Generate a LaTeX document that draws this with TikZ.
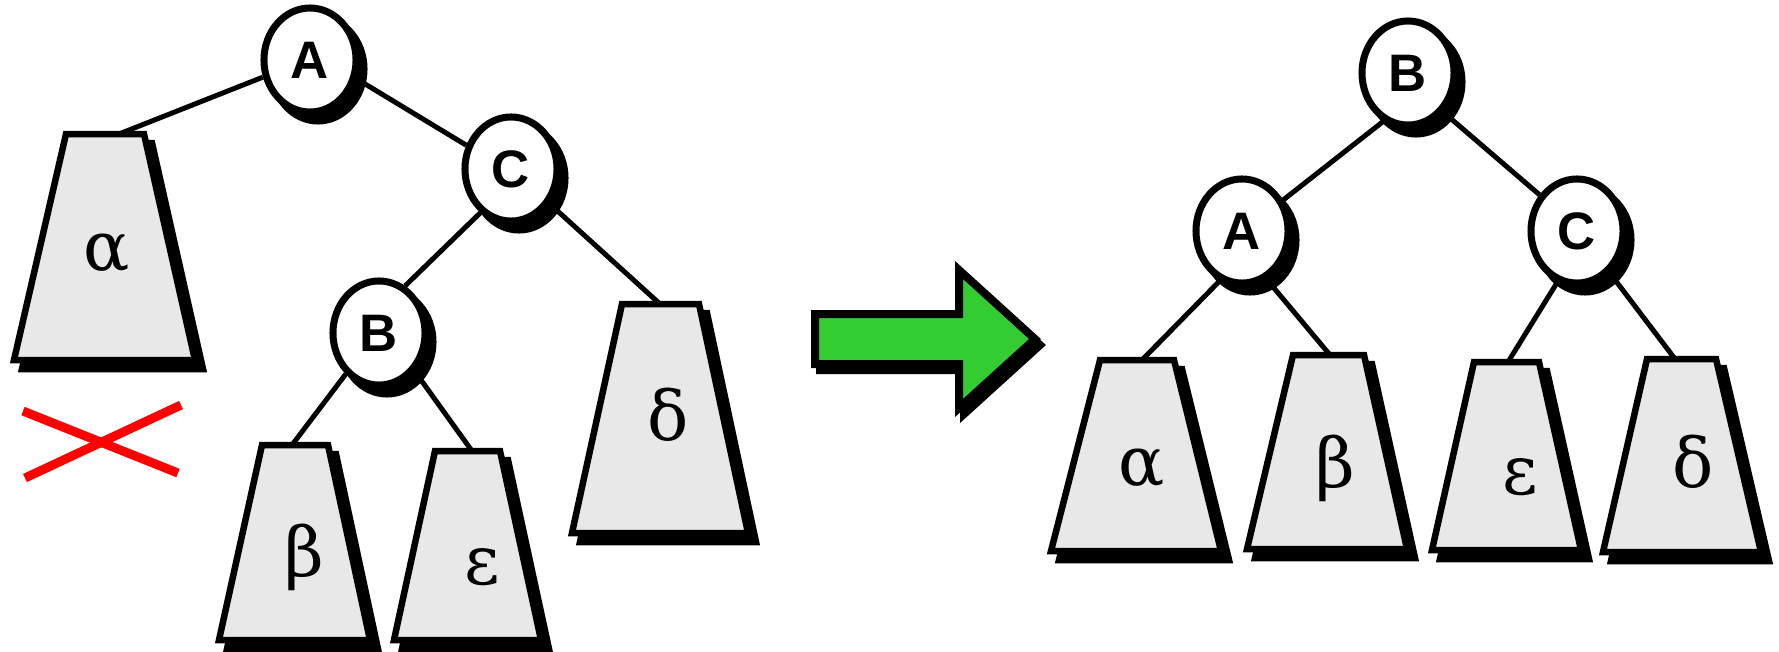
\documentclass[tikz,border=0pt]{standalone}
\usepackage{fontspec}
\newfontfamily\lsans{Liberation Sans}
\newfontfamily\gserif{DejaVu Serif}
\usetikzlibrary{shapes.geometric}
\pgfdeclarelayer{edgelayer}
\pgfdeclarelayer{shadowlayer}
\pgfsetlayers{edgelayer,shadowlayer,main}
\definecolor{boxgrey}{RGB}{232,232,232}
\definecolor{arrowgreen}{RGB}{51,204,51}
\tikzset{
  keynode/.style={ellipse, draw=black, fill=white, line width=0.07cm,
    minimum width=0.92cm, minimum height=1.04cm, inner sep=0pt,
    font=\lsans\bfseries\fontsize{15}{17}\selectfont},
  conn/.style={draw=black, line width=0.05cm},
  trbox/.style={draw=black, fill=boxgrey, line width=0.065cm},
  trshadow/.style={draw=black, fill=black, line width=0.065cm, shift={(8,9)}},
  glabel/.style={font=\gserif\fontsize{19.5}{22}\selectfont, inner sep=0pt},
  crossline/.style={draw=red, line width=0.09cm},
  bigarrow/.style={draw=black, fill=arrowgreen, line width=0.08cm},
  arrowshadow/.style={draw=black, fill=black, line width=0.08cm, shift={(5,6)}},
}
\newcommand\subtree[6]{%
  \begin{pgfonlayer}{shadowlayer}
    \path[trshadow] (#1,#3) -- (#2,#3) -- (#5,#6) -- (#4,#6) -- cycle;
  \end{pgfonlayer}
  \path[trbox] (#1,#3) -- (#2,#3) -- (#5,#6) -- (#4,#6) -- cycle;}
\begin{document}
\begin{tikzpicture}[x=0.01cm, y=-0.01cm]
\useasboundingbox (0,0) rectangle (1779,651);

% ---- left tree: key nodes
\node[keynode] (A1) at (310,60) {A};
\node[keynode] (C1) at (511,169) {C};
\node[keynode] (B1) at (379,333) {B};
% ---- right tree: key nodes
\node[keynode] (B2) at (1408,73) {B};
\node[keynode] (A2) at (1242,231) {A};
\node[keynode] (C2) at (1577,231) {C};

\begin{pgfonlayer}{shadowlayer}
\foreach \n in {A1,C1,B1,B2,A2,C2}
  \fill[black] ([shift={(8,9)}]\n.center) ellipse [x radius=0.495cm, y radius=0.555cm];
\end{pgfonlayer}

% ---- subtrees
\subtree{66}{144}{134}{14}{195}{360}
\subtree{262}{328}{445}{219}{370}{640}
\subtree{435}{500}{451}{394}{541}{640}
\subtree{622}{699}{304}{572}{748}{533}
\subtree{1100}{1174}{360}{1051}{1221}{551}
\subtree{1293}{1364}{355}{1247}{1407}{549}
\subtree{1474}{1539}{362}{1432}{1581}{550}
\subtree{1647}{1716}{359}{1603}{1761}{552}

\node[glabel] (ga1) at (107,253) {α};
\node[glabel] (gb1) at (304,557) {β};
\node[glabel] (ge1) at (482,567) {ε};
\node[glabel] (gd1) at (668,415) {δ};
\node[glabel] (ga2) at (1142,468) {α};
\node[glabel] (gb2) at (1335,468) {β};
\node[glabel] (ge2) at (1520,477) {ε};
\node[glabel] (gd2) at (1693,462) {δ};

\coordinate (ta1) at (119,134);
\coordinate (tb1) at (292,445);
\coordinate (te1) at (472,451);
\coordinate (td1) at (660,304);
\coordinate (ta2) at (1142,360);
\coordinate (tb2) at (1330,355);
\coordinate (te2) at (1508,362);
\coordinate (td2) at (1675,359);

\begin{pgfonlayer}{edgelayer}
\draw[conn] (A1.200) -- (ta1);
\draw[conn] (A1.-22) -- (C1.152);
\draw[conn] (C1.235) -- (B1.61);
\draw[conn] (C1.-42) -- (td1);
\draw[conn] (B1.231) -- (tb1);
\draw[conn] (B1.-47) -- (te1);
\draw[conn] (B2.243) -- (A2.37);
\draw[conn] (B2.-48) -- (C2.136);
\draw[conn] (A2.246) -- (ta2);
\draw[conn] (A2.-63) -- (tb2);
\draw[conn] (C2.249) -- (te2);
\draw[conn] (C2.-52) -- (td2);
\end{pgfonlayer}

% ---- red cross
\coordinate (x1a) at (23,411);
\coordinate (x1b) at (178,473);
\coordinate (x2a) at (25,478);
\coordinate (x2b) at (181,405);
\draw[crossline] (x1a) -- (x1b);
\draw[crossline] (x2a) -- (x2b);

% ---- green arrow
\begin{pgfonlayer}{shadowlayer}
\path[arrowshadow] (815,314) -- (959,314) -- (959,270) -- (1035,339) -- (959,408) -- (959,364) -- (815,364) -- cycle;
\end{pgfonlayer}
\path[bigarrow] (815,314) -- (959,314) -- (959,270) -- (1035,339) -- (959,408) -- (959,364) -- (815,364) -- cycle;
\end{tikzpicture}
\end{document}
